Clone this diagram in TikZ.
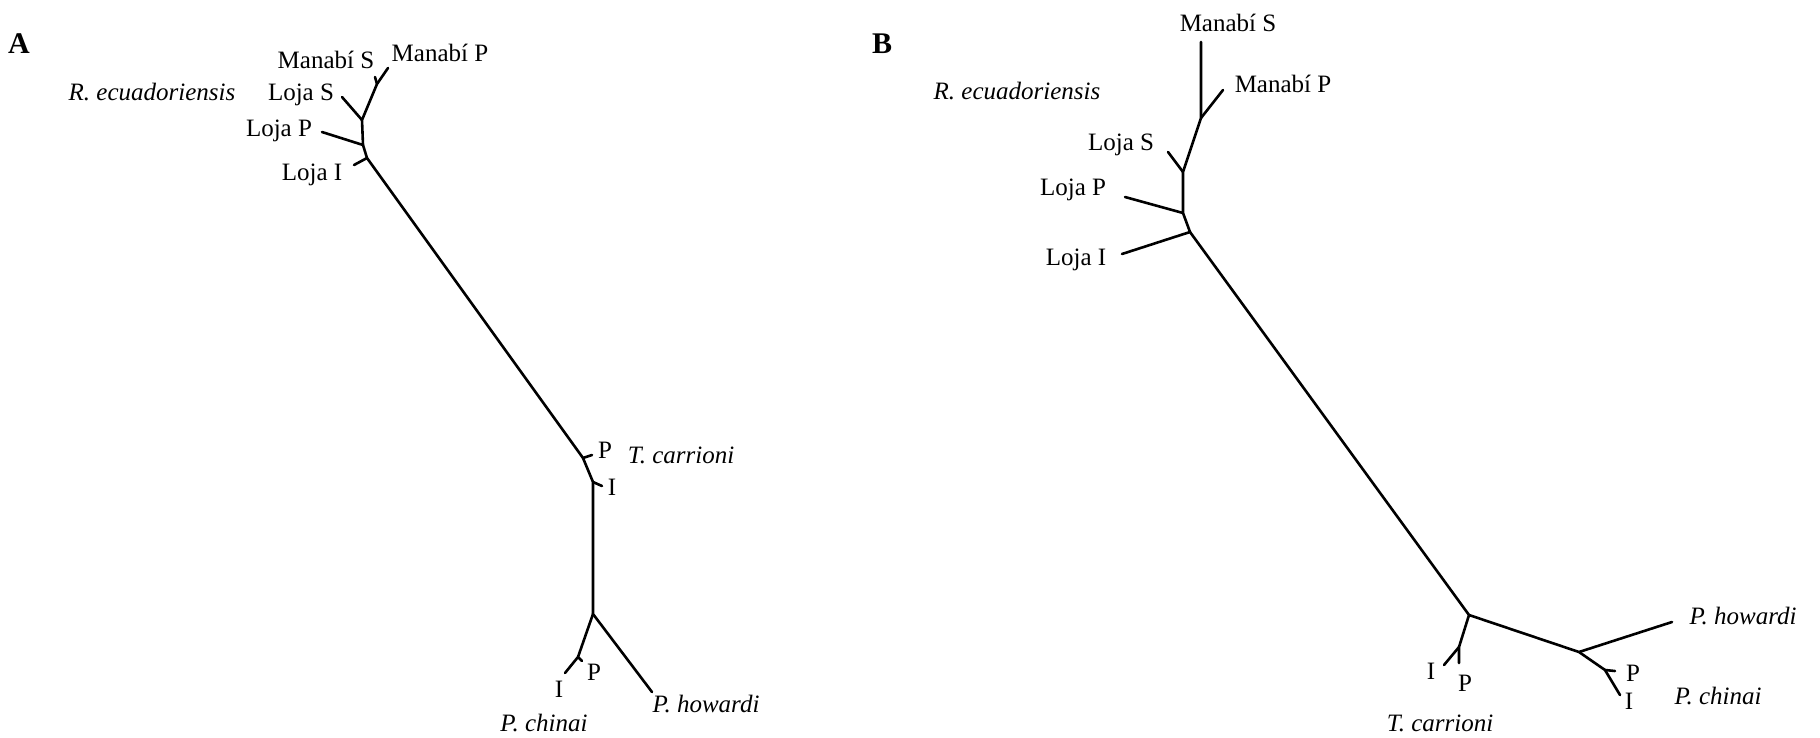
\documentclass[tikz,border=0pt]{standalone}
\usepackage{fontspec}
\setmainfont{Liberation Serif}
\begin{document}
\begin{tikzpicture}[x=1pt,y=-1pt,
  branch/.style={line width=2.6pt, line cap=round, line join=round},
  lbl/.style={inner sep=0pt, anchor=base, font=\fontsize{25}{28}\selectfont},
  taxon/.style={lbl, font=\fontsize{25}{28}\selectfont\itshape},
  panel/.style={inner sep=0pt, anchor=base west, font=\fontsize{30}{34}\selectfont\bfseries}]
\useasboundingbox (0,0) rectangle (1820,737);

% ---------- Panel A ----------
\node[panel] (pA) at (8,53) {A};
\coordinate (aMP) at (388,68);
\coordinate (aMS) at (375,77);
\coordinate (n1)  at (377,84);
\coordinate (n2)  at (362,120);
\coordinate (aLS) at (342,97);
\coordinate (n3)  at (363,145);
\coordinate (aLP) at (322,132);
\coordinate (n4)  at (367,158);
\coordinate (aLI) at (354,165);
\coordinate (n5)  at (583,458);
\coordinate (aTP) at (592,455);
\coordinate (n6)  at (593,482);
\coordinate (aTI) at (602,486);
\coordinate (n7)  at (593,614);
\coordinate (aPH) at (652,692);
\coordinate (n8)  at (578,657);
\coordinate (aCP) at (582,661);
\coordinate (aCI) at (565,673);

\draw[branch] (aMP) -- (n1) -- (n2) -- (n3) -- (n4) -- (n5) -- (n6) -- (n7) -- (aPH);
\draw[branch] (aMS) -- (n1);
\draw[branch] (aLS) -- (n2);
\draw[branch] (aLP) -- (n3);
\draw[branch] (aLI) -- (n4);
\draw[branch] (n5) -- (aTP);
\draw[branch] (n6) -- (aTI);
\draw[branch] (n7) -- (n8) -- (aCI);
\draw[branch] (n8) -- (aCP);

\node[lbl] (tAMS) at (326,68) {Manabí S};
\node[lbl] (tAMP) at (440,61) {Manabí P};
\node[taxon] (tARe) at (152,100) {R. ecuadoriensis};
\node[lbl] (tALS) at (301,100) {Loja S};
\node[lbl] (tALP) at (279,136) {Loja P};
\node[lbl] (tALI) at (312,180) {Loja I};
\node[lbl] (tATP) at (605,458) {P};
\node[taxon] (tATc) at (681,463) {T. carrioni};
\node[lbl] (tATI) at (612,495) {I};
\node[lbl] (tACP) at (594,680) {P};
\node[lbl] (tACI) at (559,697) {I};
\node[taxon] (tAPh) at (706,712) {P. howardi};
\node[taxon] (tAPc) at (544,731) {P. chinai};

% ---------- Panel B ----------
\node[panel] (pB) at (872,53) {B};
\coordinate (bMS) at (1201,42);
\coordinate (bMP) at (1223,90);
\coordinate (m1)  at (1201,118);
\coordinate (m2)  at (1183,172);
\coordinate (bLS) at (1168,152);
\coordinate (m3)  at (1183,213);
\coordinate (bLP) at (1125,197);
\coordinate (m4)  at (1190,232);
\coordinate (bLI) at (1122,254);
\coordinate (m5)  at (1469,615);
\coordinate (m6)  at (1459,647);
\coordinate (bTP) at (1459,663);
\coordinate (bTI) at (1444,665);
\coordinate (m7)  at (1579,652);
\coordinate (bPH) at (1672,622);
\coordinate (m8)  at (1605,670);
\coordinate (bCP) at (1615,671);
\coordinate (bCI) at (1620,695);

\draw[branch] (bMS) -- (m1) -- (m2) -- (m3) -- (m4) -- (m5) -- (m7) -- (bPH);
\draw[branch] (bMP) -- (m1);
\draw[branch] (bLS) -- (m2);
\draw[branch] (bLP) -- (m3);
\draw[branch] (bLI) -- (m4);
\draw[branch] (m5) -- (m6) -- (bTP);
\draw[branch] (m6) -- (bTI);
\draw[branch] (m7) -- (m8) -- (bCI);
\draw[branch] (m8) -- (bCP);

\node[lbl] (tBMS) at (1228,31) {Manabí S};
\node[lbl] (tBMP) at (1283,92) {Manabí P};
\node[taxon] (tBRe) at (1017,99) {R. ecuadoriensis};
\node[lbl] (tBLS) at (1121,150) {Loja S};
\node[lbl] (tBLP) at (1073,195) {Loja P};
\node[lbl] (tBLI) at (1076,265) {Loja I};
\node[lbl] (tBTI) at (1431,679) {I};
\node[lbl] (tBTP) at (1465,691) {P};
\node[taxon] (tBTc) at (1440,731) {T. carrioni};
\node[taxon] (tBPh) at (1743,624) {P. howardi};
\node[lbl] (tBCP) at (1633,681) {P};
\node[lbl] (tBCI) at (1629,709) {I};
\node[taxon] (tBPc) at (1718,704) {P. chinai};
\end{tikzpicture}
\end{document}
